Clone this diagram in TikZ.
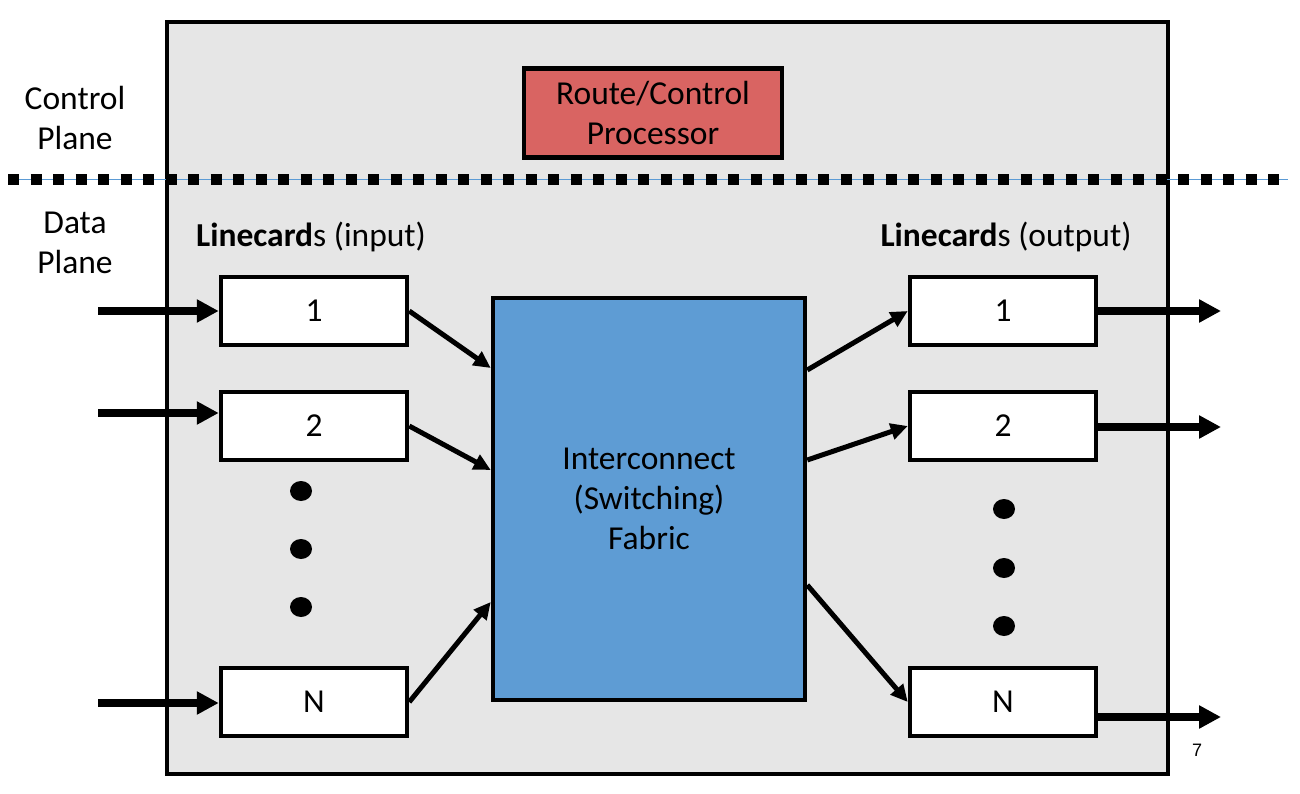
\documentclass[tikz,border=0pt]{standalone}
\usepackage{fontspec}
\setmainfont{Carlito}
\newfontfamily\slidefont{Liberation Sans}
\usetikzlibrary{arrows.meta,positioning}
\definecolor{chassis}{HTML}{E6E6E6}
\definecolor{cpu}{HTML}{D96462}
\definecolor{switch}{HTML}{5E9CD4}
\definecolor{wire}{HTML}{5B9BD5}
\tikzset{>/.tip={Triangle[length=22pt,width=22pt]}}

\begin{document}
\begin{tikzpicture}[x=1pt,y=-1pt,on grid,font=\fontsize{33.5}{40}\selectfont,
    card/.style={draw,line width=4.5pt,fill=white,minimum width=186pt,minimum height=68pt,inner sep=0pt},
    feed/.style={->,line width=7.5pt},
    link/.style={-{Triangle[length=17pt,width=16pt]},line width=5pt}]
        \useasboundingbox (0,0) rectangle (1300,794);
        \draw[line width=4.5pt,fill=chassis] (167,22) rectangle (1168,774);
        \node(ctrl)[align=center] at (75,118){Control\\Plane};
        \node(data)[align=center] at (75,243){Data\\Plane};
        \node(rcp)[draw,line width=4.5pt,fill=cpu,minimum width=258pt,minimum height=89pt,align=center] at (653,113){Route/Control\\Processor};
        \coordinate(cutW) at (8,180);
        \coordinate(cutE) at (1288,180);
        \draw[wire,line width=1pt] (cutW) -- (cutE);
        \draw[line width=11pt,dash pattern=on 11pt off 11.5pt] (cutW) -- (cutE);
        \node(fab)[draw,line width=4.5pt,fill=switch,minimum width=312pt,minimum height=402pt,align=center] at (649,499){Interconnect\\(Switching)\\Fabric};
        \node(in1)[card] at (314,311){1};
        \node(in2)[card,below=115pt of in1]{2};
        \node(inN)[card,below=276pt of in2]{N};
        \node(out1)[card,right=689pt of in1]{1};
        \node(out2)[card,right=689pt of in2]{2};
        \node(outN)[card,right=689pt of inN]{N};
        \node(inhead)[above=74pt of in1,xshift=-3pt]{\textbf{Linecard}s (input)};
        \node(outhead)[above=74pt of out1,xshift=3pt]{\textbf{Linecard}s (output)};
        \foreach \y in {491,549,607} \fill (301,\y) ellipse (11pt and 10pt);
        \foreach \y in {509,568,626} \fill (1004,\y) ellipse (11pt and 10pt);
        % ports in and out
        \coordinate(src1) at (98,311);
        \coordinate(src2) at (98,413);
        \coordinate(srcN) at (98,703);
        \coordinate(dst1) at (1221,311);
        \coordinate(dst2) at (1221,427);
        \coordinate(dstN) at (1221,717);
        \draw[feed] (src1) -- (in1.west);
        \draw[feed] (src2) -- (in2.west |- src2);
        \draw[feed] (srcN) -- (inN.west |- srcN);
        \draw[feed] (out1.east) -- (dst1);
        \draw[feed] (out2.east |- dst2) -- (dst2);
        \draw[feed] (outN.east |- dstN) -- (dstN);
        % through the fabric
        \draw[link] (in1.east) -- ([yshift=131pt]fab.west);
        \draw[link] (in2.east) -- ([yshift=29pt]fab.west);
        \draw[link] (inN.east) -- ([yshift=-103pt]fab.west);
        \draw[link] ([yshift=129pt]fab.east) -- (out1.west);
        \draw[link] ([yshift=39pt]fab.east) -- (out2.west);
        \draw[link] ([yshift=-86pt]fab.east) -- (outN.west);
        \node(page)[font=\slidefont\fontsize{18}{20}\selectfont] at (1197,750){7};
      \end{tikzpicture}
\end{document}
